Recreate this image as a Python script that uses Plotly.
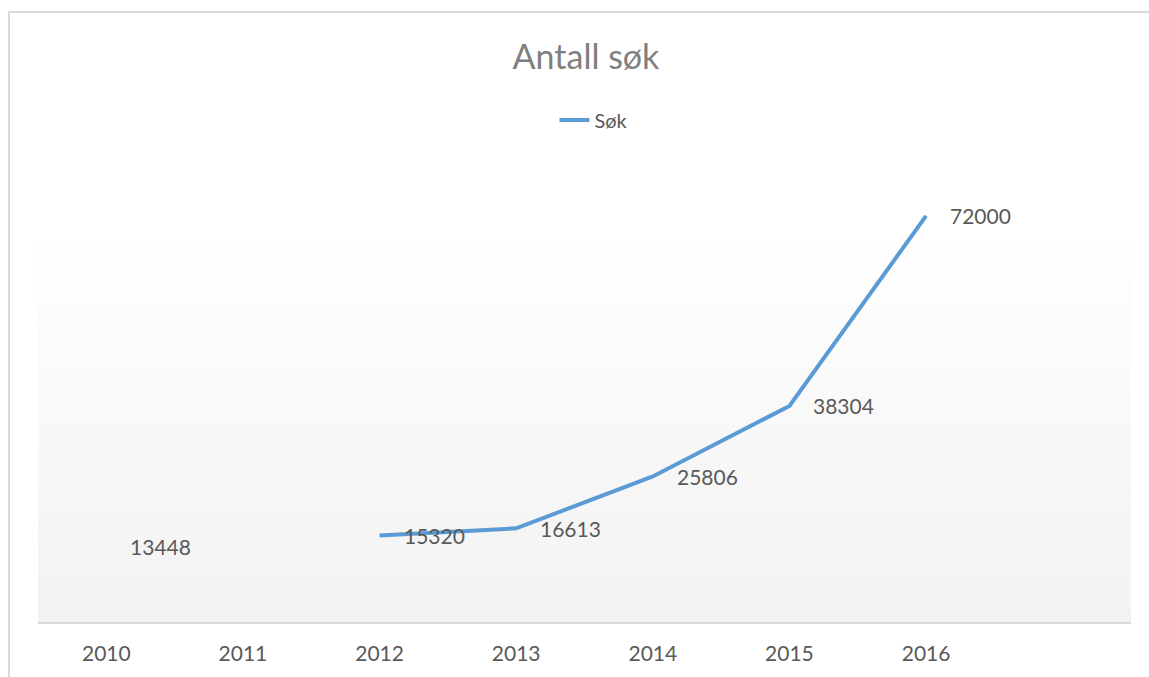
import plotly.graph_objects as go

# ---- data ----
years = [2010, 2011, 2012, 2013, 2014, 2015, 2016]
sok = [13448, None, 15320, 16613, 25806, 38304, 72000]
tick_labels = ["2010", "2011", "2012", "2013", "2014", "2015", "2016"]
series_name = "Søk"
title_text = "Antall søk"

W, H = 1149, 677
FONT = "Lato"
LINE_COLOR = "#5b9bd5"
TEXT_COLOR = "#595959"


def px_x(p):
    return p / W


def px_y(p):
    return 1 - p / H


fig = go.Figure()
fig.add_trace(go.Scatter(
    x=years, y=sok, mode="lines", name=series_name,
    line=dict(color=LINE_COLOR, width=4),
    connectgaps=False, hoverinfo="skip",
))

# data labels (to the right of each point)
annotations = []
for xv, yv in zip(years, sok):
    if yv is None:
        continue
    annotations.append(dict(
        x=xv, y=yv, xref="x", yref="y", text=str(yv), showarrow=False,
        xanchor="left", yanchor="middle", xshift=22,
        font=dict(family=FONT, size=21, color=TEXT_COLOR),
    ))

# background styling: chart border + gradient plot area
shapes = [dict(
    type="rect", xref="paper", yref="paper",
    x0=px_x(9), x1=1.05, y0=-0.05, y1=px_y(12),
    line=dict(color="#d9d9d9", width=2), fillcolor="rgba(0,0,0,0)", layer="below",
)]
top_px, bot_px = 230, 622
n = 60
for i in range(n):
    t = (i + 0.5) / n
    c = round(255 - (255 - 242) * t)
    y_top = top_px + (bot_px - top_px) * i / n
    y_bot = top_px + (bot_px - top_px) * (i + 1) / n
    shapes.append(dict(
        type="rect", xref="paper", yref="paper",
        x0=px_x(38), x1=px_x(1131), y0=px_y(y_bot), y1=px_y(y_top) + 0.0005,
        line=dict(width=0), fillcolor=f"rgb({c},{c},{c})", layer="below",
    ))

y_scale = 0.00564  # px per unit
dom_top_px = 100
y_max = (bot_px - dom_top_px) / y_scale

fig.update_layout(
    width=W, height=H,
    margin=dict(l=0, r=0, t=0, b=0),
    paper_bgcolor="white", plot_bgcolor="rgba(0,0,0,0)",
    font=dict(family=FONT, color=TEXT_COLOR),
    title=dict(text=title_text, x=586 / W, xanchor="center",
               y=px_y(57), yanchor="middle",
               font=dict(family=FONT, size=34, color="#7f7f7f")),
    legend=dict(orientation="h", x=594 / W, xanchor="center",
                y=px_y(120), yanchor="middle",
                font=dict(family=FONT, size=20, color=TEXT_COLOR),
                bgcolor="rgba(0,0,0,0)"),
    showlegend=True,
    xaxis=dict(
        domain=[px_x(38), px_x(1131)],
        range=[2009.5, 2017.5],
        tickmode="array", tickvals=years, ticktext=tick_labels,
        showgrid=False, zeroline=False,
        showline=True, linecolor="#d9d9d9", linewidth=2,
        ticks="", ticklabelstandoff=12,
        tickfont=dict(family=FONT, size=21, color=TEXT_COLOR),
    ),
    yaxis=dict(
        domain=[px_y(bot_px), px_y(dom_top_px)],
        range=[0, y_max],
        visible=False, showgrid=False, zeroline=False,
    ),
    annotations=annotations,
    shapes=shapes,
)

fig.write_html("out.html")
